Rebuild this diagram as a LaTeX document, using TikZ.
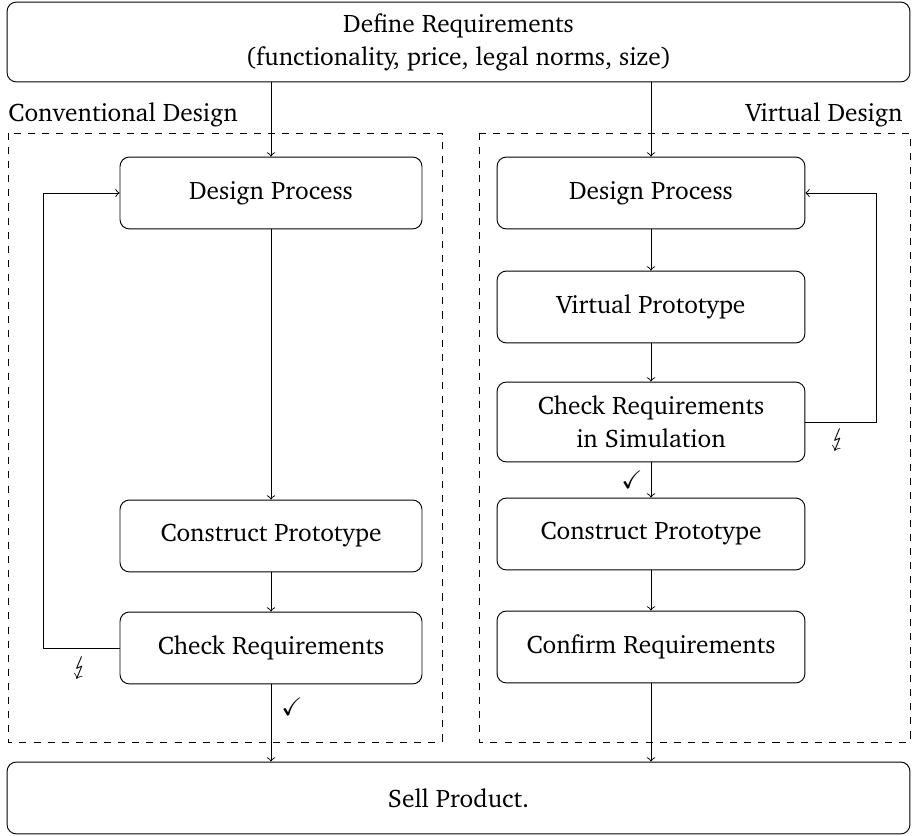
\documentclass[tikz,border=0pt]{standalone}
\usepackage[T1]{fontenc}
\usepackage{charter}
\usepackage{amssymb}
\usepackage{stmaryrd}
\begin{document}
\begin{tikzpicture}[x=0.4255pt,y=-0.4255pt,
  every node/.style={font=\fontsize{10.8pt}{14pt}\selectfont},
  box/.style={draw,rounded corners=4pt,align=center,inner sep=0pt},
  lbox/.style={box,minimum width=128.5pt,minimum height=30.6pt},
  rbox/.style={box,minimum width=131pt,minimum height=30.6pt},
  frame/.style={draw,dashed},
  arr/.style={->},
  lbl/.style={inner sep=0pt}]
\useasboundingbox (0,0) rectangle (918,836);
\node[box,minimum width=384.2pt,minimum height=34pt] (top) at (458.5,42) {Define Requirements\\(functionality, price, legal norms, size)};
\node[box,minimum width=384.2pt,minimum height=30.6pt] (sell) at (458.5,798) {Sell Product.};
\draw[frame] (8,133) rectangle (442,742);
\draw[frame] (479,133) rectangle (910,742);
\node[lbl,anchor=west] (conv) at (8,115) {Conventional Design};
\node[lbl,anchor=east] (virt) at (903,115) {Virtual Design};
% left
\node[lbox] (ldp) at (271,193) {Design Process};
\node[lbox] (lcp) at (271,536) {Construct Prototype};
\node[lbox] (lcr) at (271,648) {Check Requirements};
% right
\node[rbox] (rdp) at (651,193) {Design Process};
\node[rbox] (rvp) at (651,307) {Virtual Prototype};
\node[rbox,minimum height=34pt] (rcs) at (651,422) {Check Requirements\\in Simulation};
\node[rbox] (rcp) at (651,534) {Construct Prototype};
\node[rbox] (rcf) at (651,647) {Confirm Requirements};
% arrows
\draw[arr] (top.south -| ldp) -- (ldp.north);
\draw[arr] (top.south -| rdp) -- (rdp.north);
\draw[arr] (ldp) -- (lcp);
\draw[arr] (lcp) -- (lcr);
\draw[arr] (lcr.south) -- (lcr.south |- sell.north);
\draw[arr] (rdp) -- (rvp);
\draw[arr] (rvp) -- (rcs);
\draw[arr] (rcs) -- (rcp);
\draw[arr] (rcp) -- (rcf);
\draw[arr] (rcf.south) -- (rcf.south |- sell.north);
\draw[arr] (lcr.west) -- ++(-76,0) |- (ldp.west);
\draw[arr] (rcs.east) -- ++(71,0) |- (rdp.east);
\node (l1) at (80,668) {$\lightning$};
\node (l2) at (838,440) {$\lightning$};
\node (c1) at (292,707) {$\checkmark$};
\node (c2) at (632,480) {$\checkmark$};
\end{tikzpicture}
\end{document}
